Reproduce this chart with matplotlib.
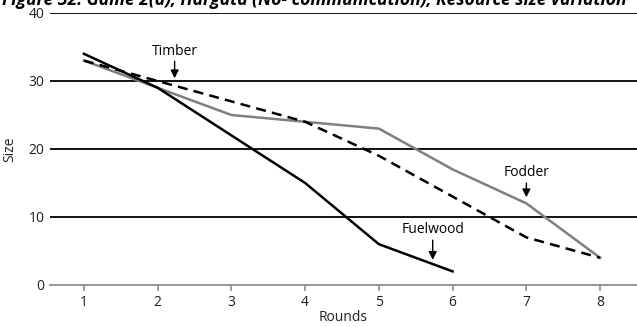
import numpy as np
import matplotlib.pyplot as plt

plt.rcParams['font.family'] = ['Open Sans', 'DejaVu Sans']

rounds = [1, 2, 3, 4, 5, 6, 7, 8]
fuelwood = [34, 29, 22, 15, 6, 2]
timber = [33, 30, 27, 24, 19, 13, 7, 4]
fodder = [33, 29, 25, 24, 23, 17, 12, 4]
yticks = [0, 10, 20, 30, 40]

fig = plt.figure(figsize=(6.37, 3.27), dpi=100)
ax = fig.add_axes([50/637, 42/327, 1 - 50/637, 272/327])

for y in yticks[1:]:
    ax.axhline(y, color='black', lw=1.3, zorder=1)

ax.plot(rounds, fodder, color='#7f7f7f', lw=1.8, zorder=3)
ax.plot(rounds, timber, color='black', lw=1.8, ls=(0, (4, 2.5)), zorder=4)
ax.plot(rounds[:len(fuelwood)], fuelwood, color='black', lw=1.8, zorder=5)

arr = dict(arrowstyle='-|>', color='black', lw=1, mutation_scale=12, shrinkA=0, shrinkB=0)
ax.annotate('Timber', xy=(2.23, 30.4), xytext=(2.23, 33.3), ha='center', va='bottom',
            fontsize=10, arrowprops=arr)
ax.annotate('Fodder', xy=(7.0, 12.9), xytext=(7.0, 15.4), ha='center', va='bottom',
            fontsize=10, arrowprops=arr)
ax.annotate('Fuelwood', xy=(5.73, 3.7), xytext=(5.73, 7.0), ha='center', va='bottom',
            fontsize=10, arrowprops=arr)

ax.set_xlim(0.54, 8.5)
ax.set_ylim(0, 40)
ax.set_xticks(rounds)
ax.set_yticks(yticks)
for s in ['top', 'right', 'left']:
    ax.spines[s].set_visible(False)
ax.spines['bottom'].set_color('#8c8c8c')
ax.spines['bottom'].set_linewidth(1.3)
ax.tick_params(axis='x', colors='#8c8c8c', length=4, width=1.2, labelcolor='#222222',
               labelsize=10, pad=3)
ax.tick_params(axis='y', length=0, labelcolor='#222222', labelsize=10, pad=4)
ax.set_xlabel('Rounds', fontsize=10, color='#222222', labelpad=0)
ax.set_ylabel('Size', fontsize=10, color='#222222', labelpad=8)

# title is cut off at the top edge, as in the source figure
fig.text(0.003, 1 - 5/327, 'Figure 32. Game 2(a), Hargata (No- communication), Resource size variation',
         fontsize=12.6, fontweight='bold', style='italic', ha='left', va='baseline')

fig.savefig('out.png', dpi=100)
